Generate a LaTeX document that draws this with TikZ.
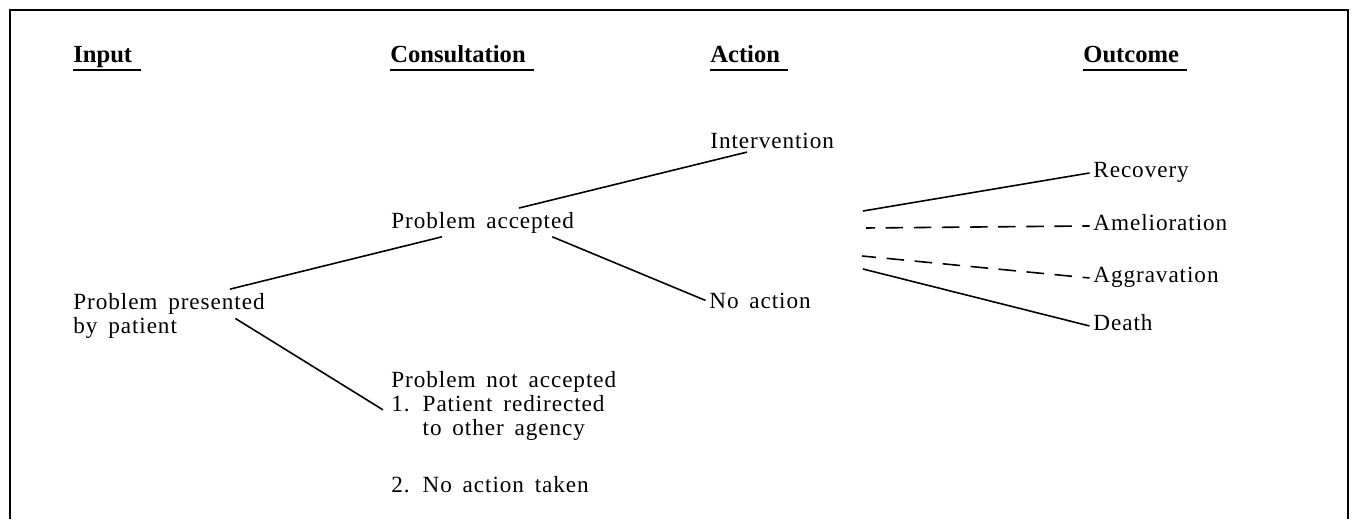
\documentclass[tikz,border=0pt]{standalone}
\usepackage{fontspec}
\setmainfont{Liberation Serif}[LetterSpace=4,WordSpace=1.6]
\newfontfamily\headfont{Liberation Serif}
\usepackage{tikz}

\begin{document}
\begin{tikzpicture}[
  txt/.style={anchor=base west, inner sep=2pt, align=left,
    font=\fontsize{13.2}{13.6}\selectfont},
  hdr/.style={anchor=base west, inner sep=0pt,
    font=\headfont\fontsize{14}{16}\selectfont\bfseries},
  uline/.style={line width=1.1pt},
  link/.style={line width=0.9pt},
  dlink/.style={link, dash pattern=on 10pt off 6pt, dash phase=6pt},
  frame/.style={line width=1.3pt}]
  \useasboundingbox (0,0) rectangle (27.10,10.38);

  % Frame (open at the bottom)
  \draw[frame] (0.20,0) |- (26.96,10.18) -- (26.96,0);

  % Column heads
  \node[hdr] (hin)  at (1.46,9.14)  {Input};
  \node[hdr] (hcon) at (7.80,9.14)  {Consultation};
  \node[hdr] (hact) at (14.20,9.14) {Action};
  \node[hdr] (hout) at (21.66,9.14) {Outcome};
  \foreach \h in {hin,hcon,hact,hout}
    \draw[uline] ([yshift=-0.16cm]\h.base west) -- ([xshift=0.16cm,yshift=-0.16cm]\h.base east);

  % Input / consultation (base = last line)
  \node[txt] (pp) at (1.39,3.72) {Problem presented\\by patient};
  \node[txt] (pa) at (7.75,5.82) {Problem accepted};
  \node[txt] (pn) at (7.75,0.54) {Problem not accepted\\1. Patient redirected\\\phantom{1. }to other agency\\[0.66cm]2. No action taken};

  % Action
  \node[txt] (iv) at (14.13,7.42) {Intervention};
  \node[txt] (na) at (14.11,4.22) {No action};

  % Outcome
  \node[txt] (rc) at (21.79,6.84) {Recovery};
  \node[txt] (am) at (21.79,5.78) {Amelioration};
  \node[txt] (ag) at (21.79,4.74) {Aggravation};
  \node[txt] (de) at (21.79,3.78) {Death};
  \coordinate (rcs) at (17.26,6.16);
  \coordinate (ams) at (17.32,5.82);
  \coordinate (ags) at (17.24,5.26);
  \coordinate (des) at (17.26,5.00);

  % Branches
  \draw[link] ([xshift=-0.77cm]pp.north east) -- ([xshift=1.09cm]pa.south west);
  \draw[link] ([shift={(-0.66,-0.06)}]pp.east) -- ([shift={(-0.09,-0.85)}]pn.north west);
  \draw[link] ([xshift=2.63cm]pa.north west) -- ([xshift=0.81cm]iv.south west);
  \draw[link] ([xshift=-0.51cm]pa.south east) -- (na.west);
  \draw[link] (rcs) -- (rc.mid west);
  \draw[dlink] (am.mid west) -- (ams);
  \draw[dlink] (ag.mid west) -- (ags);
  \draw[link] (des) -- (de.mid west);
\end{tikzpicture}
\end{document}
